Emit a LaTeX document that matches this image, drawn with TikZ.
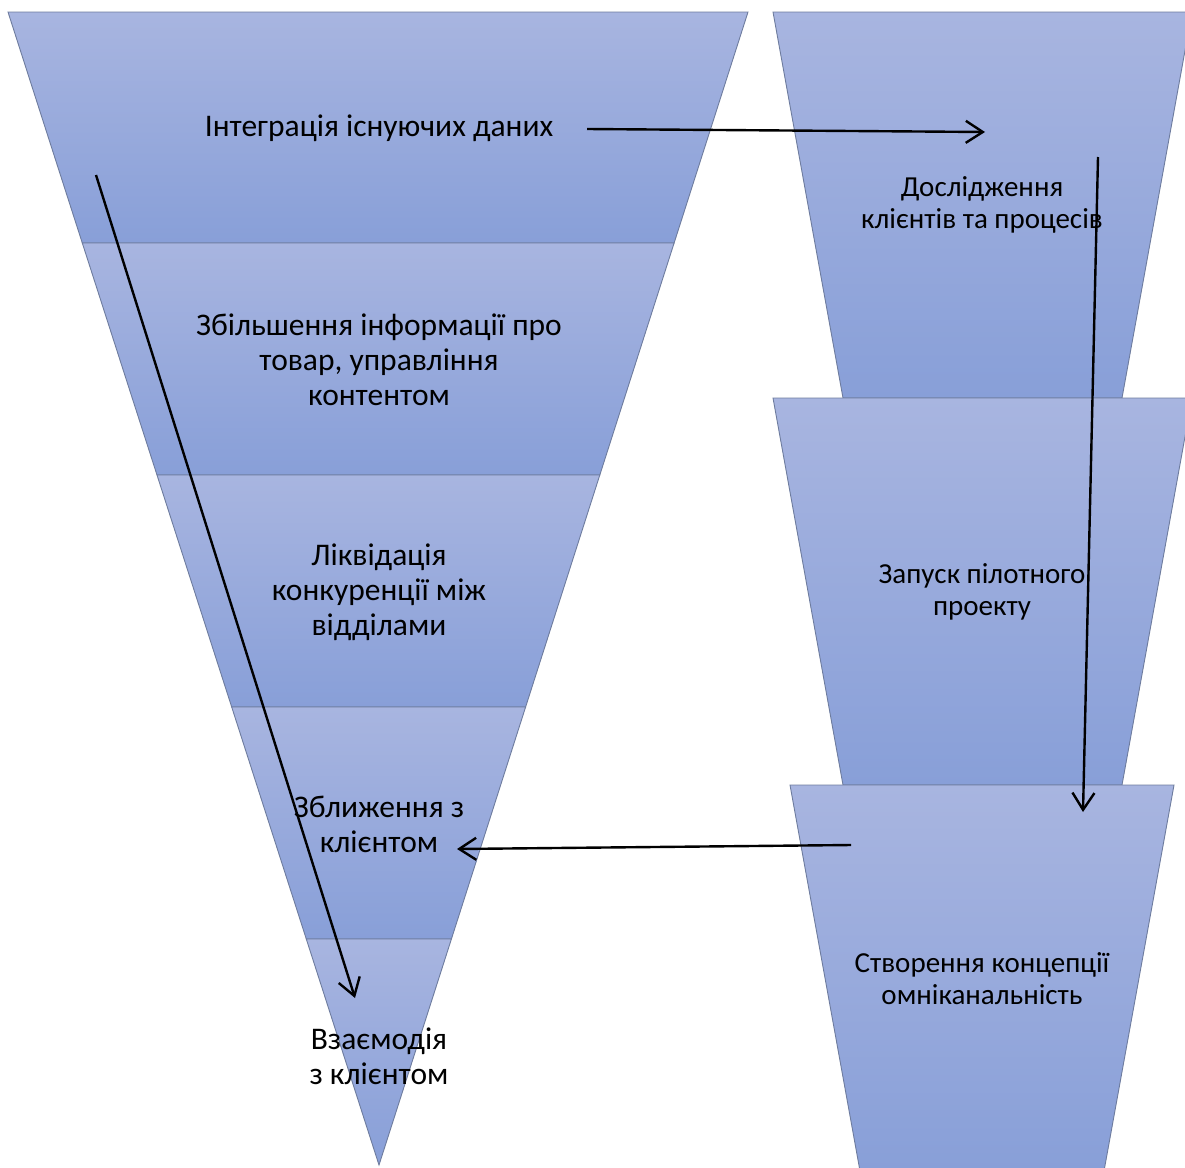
\documentclass[tikz,border=0pt]{standalone}
\usepackage{fontspec}
\setmainfont{Carlito}
\usetikzlibrary{arrows.meta}
\definecolor{laytop}{HTML}{A8B5E0}
\definecolor{laybot}{HTML}{889FD8}
\definecolor{layedge}{HTML}{6E7C9E}
\tikzset{
  layer/.style={top color=laytop, bottom color=laybot, draw=layedge, line width=0.9pt, line join=miter},
  bigtxt/.style={align=center, font=\fontsize{31.5}{35}\selectfont, inner sep=0pt, text=black},
  smalltxt/.style={align=center, font=\fontsize{29}{32}\selectfont, inner sep=0pt, text=black},
  flow/.style={line width=2.4pt, -{Straight Barb[length=17pt,width=22pt,line width=2.4pt]}}
}
\begin{document}
\begin{tikzpicture}[x=1pt,y=-1pt]
\useasboundingbox (0,0) rectangle (1185,1167);
\clip (0,0) rectangle (1185,1167);
% left funnel
\path[layer] (8,12) -- (748,12) -- (674.1,243) -- (82.3,243) -- cycle;
\path[layer] (82.3,243) -- (674.1,243) -- (599.8,475) -- (157,475) -- cycle;
\path[layer] (157,475) -- (599.8,475) -- (525.6,707) -- (231.7,707) -- cycle;
\path[layer] (231.7,707) -- (525.6,707) -- (451.4,939) -- (306.3,939) -- cycle;
\path[layer] (306.3,939) -- (451.4,939) -- (379,1165) -- cycle;
% right trapezoids
\path[layer] (773,12) -- (1192,12) -- (1122,398) -- (843,398) -- cycle;
\path[layer] (773,398) -- (1192,398) -- (1122,785) -- (843,785) -- cycle;
\path[layer] (790,785) -- (1174,785) -- (1104,1171) -- (860,1171) -- cycle;
% texts
\node[bigtxt] (l1) at (379,128) {Інтеграція існуючих даних};
\node[bigtxt] (l2) at (379,360) {Збільшення інформації про\\товар, управління\\контентом};
\node[bigtxt] (l3) at (379,592) {Ліквідація\\конкуренції між\\відділами};
\node[bigtxt] (l4) at (379,824) {Зближення з\\клієнтом};
\node[bigtxt] (l5) at (379,1056) {Взаємодія\\з клієнтом};
\node[smalltxt] (r1) at (982,205) {Дослідження\\клієнтів та процесів};
\node[smalltxt] (r2) at (982,592) {Запуск пілотного\\проекту};
\node[smalltxt] (r3) at (982,979) {Створення концепції\\омніканальність};
% arrows
\coordinate (a1s) at (587,129);
\coordinate (a1e) at (985,132);
\coordinate (a2s) at (1098,157);
\coordinate (a2e) at (1083,812);
\coordinate (a3s) at (851,845);
\coordinate (a3e) at (457,849);
\coordinate (a4s) at (96,175);
\coordinate (a4e) at (355,998);
\draw[flow] (a1s) -- (a1e);
\draw[flow] (a2s) -- (a2e);
\draw[flow] (a3s) -- (a3e);
\draw[flow] (a4s) -- (a4e);
\end{tikzpicture}
\end{document}
